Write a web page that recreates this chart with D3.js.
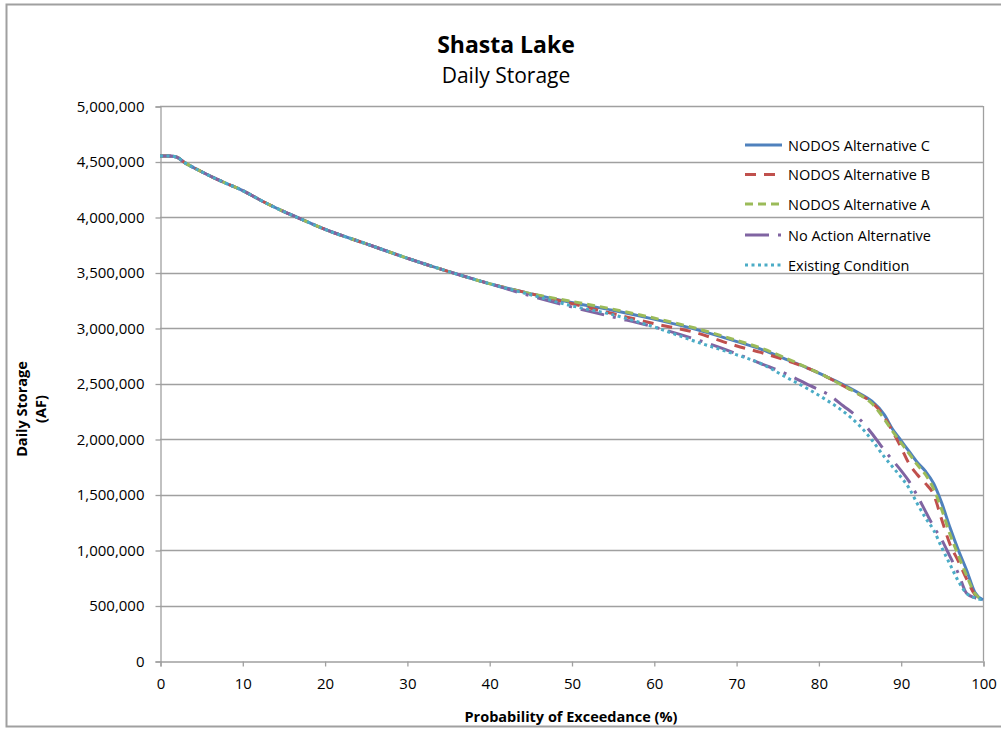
<!DOCTYPE html>
<html>
<head>
<meta charset="utf-8">
<script src="https://cdn.jsdelivr.net/npm/d3@7"></script>
<style>
  body { margin: 0; background: #fff; }
  svg { display: block; font-family: "Open Sans", sans-serif; }
</style>
</head>
<body>
<svg id="chart" width="1001" height="731"></svg>
<script>
// ---- DATA ----
const exceedance = [0,1,2,3,5,7.5,10,12.5,15,17.5,20,25,30,35,40,45,50,55,60,65,70,73,76,79,81,83,85,86.5,88,89,90,91,92,93,94,95,96,97,98,99,100];

const altC = [4550000,4550000,4540000,4490000,4410000,4320000,4240000,4140000,4050000,3970000,3890000,3760000,3630000,3510000,3400000,
  3310000,3230000,3160000,3080000,2990000,2880000,2810000,2720000,2630000,2560000,2490000,2410000,2340000,2220000,2090000,1990000,1890000,1790000,1710000,1600000,1420000,1200000,1000000,820000,620000,550000];
const altB = [4550000,4550000,4540000,4490000,4410000,4320000,4240000,4140000,4050000,3970000,3890000,3760000,3630000,3510000,3400000,
  3310000,3220000,3130000,3040000,2960000,2840000,2780000,2710000,2630000,2560000,2480000,2400000,2330000,2200000,2070000,1930000,1780000,1680000,1600000,1500000,1270000,1050000,900000,740000,600000,550000];
const altA = [4550000,4550000,4540000,4490000,4410000,4320000,4240000,4140000,4050000,3970000,3890000,3760000,3630000,3510000,3400000,
  3310000,3240000,3170000,3090000,3000000,2890000,2820000,2730000,2630000,2560000,2480000,2400000,2320000,2180000,2070000,1970000,1870000,1770000,1680000,1550000,1360000,1140000,950000,770000,610000,550000];
const noAction = [4550000,4550000,4540000,4490000,4410000,4320000,4240000,4140000,4050000,3970000,3890000,3760000,3630000,3510000,3400000,
  3290000,3190000,3100000,3010000,2900000,2770000,2680000,2590000,2480000,2410000,2300000,2180000,2050000,1900000,1810000,1720000,1620000,1490000,1350000,1210000,1090000,940000,790000,610000,570000,550000];
const existing = [4550000,4550000,4540000,4490000,4410000,4320000,4240000,4140000,4050000,3970000,3890000,3760000,3630000,3510000,3400000,
  3300000,3200000,3120000,3010000,2880000,2760000,2680000,2560000,2440000,2350000,2250000,2120000,1990000,1840000,1750000,1660000,1560000,1420000,1290000,1180000,1020000,870000,720000,610000,570000,550000];

const seriesNames = ["NODOS Alternative C","NODOS Alternative B","NODOS Alternative A","No Action Alternative","Existing Condition"];
const seriesValues = [altC, altB, altA, noAction, existing];
const yTicks = [0,500000,1000000,1500000,2000000,2500000,3000000,3500000,4000000,4500000,5000000];
const xTicks = [0,10,20,30,40,50,60,70,80,90,100];

// ---- STYLES ----
const styles = [
  { color: "#4F81BD", dash: null },
  { color: "#C0504D", dash: "11,8" },
  { color: "#9BBB59", dash: "8,5" },
  { color: "#8064A2", dash: "24,9,3,9" },
  { color: "#4BACC6", dash: "3,3.5" }
];

const svg = d3.select("#chart");
const grid = "#A0A0A0";

// outer border
svg.append("rect").attr("x", 6.5).attr("y", 4.5).attr("width", 1010).attr("height", 722)
  .attr("fill", "none").attr("stroke", "#A0A0A0").attr("stroke-width", 2);

const x = d3.scaleLinear().domain([0, 100]).range([160, 983]);
const y = d3.scaleLinear().domain([0, 5000000]).range([661, 106]);

// gridlines
svg.append("g").selectAll("line").data(yTicks.filter(d => d > 0)).join("line")
  .attr("x1", x(0)).attr("x2", x(100))
  .attr("y1", d => Math.round(y(d)) + 0.5).attr("y2", d => Math.round(y(d)) + 0.5)
  .attr("stroke", grid).attr("stroke-width", 1.3);
// right border of plot area
svg.append("line").attr("x1", x(100) + 0.5).attr("x2", x(100) + 0.5).attr("y1", y(5000000)).attr("y2", y(0))
  .attr("stroke", grid).attr("stroke-width", 1.3);

// axes
const yAxis = d3.axisLeft(y).tickValues(yTicks).tickFormat(d3.format(",")).tickSize(5).tickPadding(11);
const gy = svg.append("g").attr("transform", `translate(${x(0) + 0.5},0.5)`).call(yAxis);
const xAxis = d3.axisBottom(x).tickValues(xTicks).tickFormat(d3.format("d")).tickSize(5).tickPadding(12);
const gx = svg.append("g").attr("transform", `translate(0.5,${y(0) + 0.5})`).call(xAxis);
[gx, gy].forEach(g => {
  g.select(".domain").attr("stroke", grid).attr("stroke-width", 1.3);
  g.selectAll(".tick line").attr("stroke", grid).attr("stroke-width", 1.3);
  g.selectAll(".tick text").attr("fill", "#000").style("font-size", "15px").style("font-family", "Open Sans, sans-serif");
});

// lines
const line = d3.line().x((d, i) => x(exceedance[i])).y(d => y(d)).curve(d3.curveMonotoneX);
seriesValues.forEach((vals, i) => {
  svg.append("path").datum(vals).attr("d", line)
    .attr("fill", "none").attr("stroke", styles[i].color).attr("stroke-width", 3)
    .attr("stroke-dasharray", styles[i].dash).attr("stroke-linejoin", "round");
});

// titles
svg.append("text").attr("x", 506).attr("y", 53).attr("text-anchor", "middle")
  .style("font-size", "23px").style("font-weight", "bold").text("Shasta Lake");
svg.append("text").attr("x", 506).attr("y", 83).attr("text-anchor", "middle")
  .style("font-size", "21px").text("Daily Storage");
svg.append("text").attr("x", 571).attr("y", 722).attr("text-anchor", "middle")
  .style("font-size", "14.5px").style("font-weight", "bold").text("Probability of Exceedance (%)");
const yt = svg.append("text").attr("transform", "translate(0,409) rotate(-90)")
  .attr("text-anchor", "middle").style("font-size", "14.5px").style("font-weight", "bold");
yt.append("tspan").attr("x", 0).attr("y", 27).text("Daily Storage");
yt.append("tspan").attr("x", 0).attr("y", 46).text("(AF)");

// legend
const legY = [145, 174.5, 204, 235, 265];
seriesNames.forEach((name, i) => {
  svg.append("line").attr("x1", 745).attr("x2", 782).attr("y1", legY[i]).attr("y2", legY[i])
    .attr("stroke", styles[i].color).attr("stroke-width", 3).attr("stroke-dasharray", styles[i].dash);
  svg.append("text").attr("x", 788).attr("y", legY[i] + 5.5).style("font-size", "14.5px").text(name);
});
</script>
</body>
</html>
